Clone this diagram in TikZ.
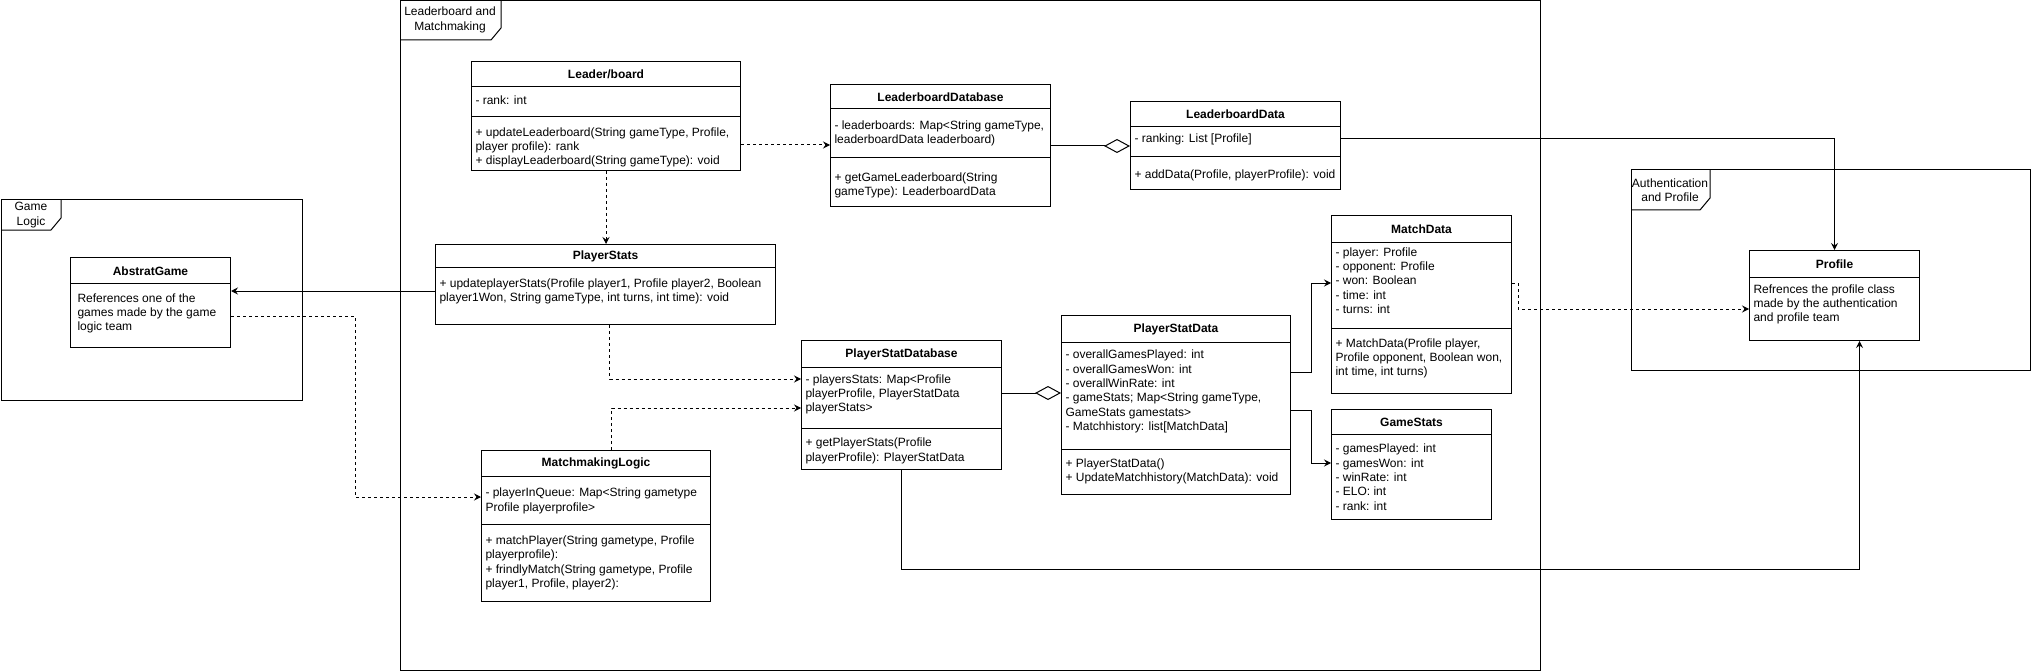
\documentclass[tikz,border=0pt]{standalone}
\usepackage{fontspec}
\setmainfont{Liberation Sans}
\usetikzlibrary{arrows.meta}
\tikzstyle{classbox}=[draw, rectangle, fill=white, anchor=north west, inner sep=0pt]
\tikzstyle{classname}=[font={\fontsize{12}{14.4}\selectfont\bfseries}, inner sep=0pt]
\tikzstyle{members}=[anchor=north west, align=left, inner sep=0pt]
\tikzstyle{assocline}=[-{Stealth[length=7pt,width=7pt,inset=2.5pt]}]
\tikzstyle{depline}=[assocline, dash pattern=on 3pt off 3pt]
\tikzstyle{aggrline}=[-{Diamond[open,length=26pt,width=14pt]}]

\begin{document}
\begin{tikzpicture}[x=1pt, y=-1pt, line width=1pt, font=\fontsize{12}{14.4}\selectfont]
\useasboundingbox (0,0) rectangle (2031,671);
% Frames
    \draw (1,200) rectangle (302,400);
    \draw (1,230) -- (51,230) -- (61,218) -- (61,200);
    \node[align=center] (gameTab) at (31,215) {Game\\Logic};
    \draw (400,1) rectangle (1540,670);
    \draw (400,40) -- (491,40) -- (501,28) -- (501,1);
    \node[align=center] (lbmmTab) at (450,20) {Leaderboard and\\Matchmaking};
    \draw (1631,170) rectangle (2030,370);
    \draw (1631,210) -- (1700,210) -- (1710,198) -- (1710,170);
    \node[align=center] (authTab) at (1670,190) {Authentication\\and Profile};
% Game logic class
    \node[classbox, minimum width=160, minimum height=90] (abstract) at (70,257) {};
    \draw (abstract.west |- 0,283) -- (abstract.east |- 0,283);
    \node[classname] (abstractName) at (abstract.north |- 0,271) {AbstratGame};
    \node[members] (abstractText) at (77,293) {References one of the\\games made by the game\\logic team};
% Leaderboard classes
    \node[classbox, minimum width=269, minimum height=109] (board) at (471,61) {};
    \draw (board.west |- 0,87) -- (board.east |- 0,87);
    \draw (board.west |- 0,117) -- (board.east |- 0,117);
    \node[classname] (boardName) at (board.north |- 0,74) {Leader/board};
    \node[members] (boardAttr) at (475,95.5) {- rank: int};
    \node[members] (boardOps) at (475,127) {+ updateLeaderboard(String gameType, Profile,\\player profile): rank\\+ displayLeaderboard(String gameType): void};

    \node[classbox, minimum width=220, minimum height=122] (lbdb) at (830,84) {};
    \draw (lbdb.west |- 0,109) -- (lbdb.east |- 0,109);
    \draw (lbdb.west |- 0,158) -- (lbdb.east |- 0,158);
    \node[classname] (lbdbName) at (lbdb.north |- 0,97) {LeaderboardDatabase};
    \node[members] (lbdbAttr) at (834,120) {- leaderboards: Map<String gameType,\\leaderboardData leaderboard)};
    \node[members] (lbdbOps) at (834,172) {+ getGameLeaderboard(String\\gameType): LeaderboardData};

    \node[classbox, minimum width=210, minimum height=88] (lbdata) at (1130,101) {};
    \draw (lbdata.west |- 0,127) -- (lbdata.east |- 0,127);
    \draw (lbdata.west |- 0,157) -- (lbdata.east |- 0,157);
    \node[classname] (lbdataName) at (lbdata.north |- 0,114) {LeaderboardData};
    \node[members] (lbdataAttr) at (1134,133.5) {- ranking: List [Profile]};
    \node[members] (lbdataOps) at (1134,169) {+ addData(Profile, playerProfile): void};
% Player stats classes
    \node[classbox, minimum width=340, minimum height=80] (pstats) at (435,244) {};
    \draw (pstats.west |- 0,267) -- (pstats.east |- 0,267);
    \node[classname] (pstatsName) at (pstats.north |- 0,256) {PlayerStats};
    \node[members] (pstatsOps) at (439,278) {+ updateplayerStats(Profile player1, Profile player2, Boolean\\player1Won, String gameType, int turns, int time): void};

    \node[classbox, minimum width=229, minimum height=151] (mm) at (481,450) {};
    \draw (mm.west |- 0,476) -- (mm.east |- 0,476);
    \draw (mm.west |- 0,524) -- (mm.east |- 0,524);
    \node[classname] (mmName) at (mm.north |- 0,463) {MatchmakingLogic};
    \node[members] (mmAttr) at (485,487.5) {- playerInQueue: Map<String gametype\\Profile playerprofile>};
    \node[members] (mmOps) at (485,535) {+ matchPlayer(String gametype, Profile\\playerprofile):\\+ frindlyMatch(String gametype, Profile\\player1, Profile, player2):};

    \node[classbox, minimum width=200, minimum height=129] (psdb) at (801,340) {};
    \draw (psdb.west |- 0,367) -- (psdb.east |- 0,367);
    \draw (psdb.west |- 0,428) -- (psdb.east |- 0,428);
    \node[classname] (psdbName) at (psdb.north |- 0,354) {PlayerStatDatabase};
    \node[members] (psdbAttr) at (805,374) {- playersStats: Map<Profile\\playerProfile, PlayerStatData\\playerStats>};
    \node[members] (psdbOps) at (805,437.5) {+ getPlayerStats(Profile\\playerProfile): PlayerStatData};

    \node[classbox, minimum width=229, minimum height=179] (psdata) at (1061,315) {};
    \draw (psdata.west |- 0,342) -- (psdata.east |- 0,342);
    \draw (psdata.west |- 0,449) -- (psdata.east |- 0,449);
    \node[classname] (psdataName) at (psdata.north |- 0,329) {PlayerStatData};
    \node[members] (psdataAttr) at (1065,349.5) {- overallGamesPlayed: int\\- overallGamesWon: int\\- overallWinRate: int\\- gameStats; Map<String gameType,\\GameStats gamestats>\\- Matchhistory: list[MatchData]};
    \node[members] (psdataOps) at (1065,458) {+ PlayerStatData()\\+ UpdateMatchhistory(MatchData): void};

    \node[classbox, minimum width=180, minimum height=178] (match) at (1331,215) {};
    \draw (match.west |- 0,242) -- (match.east |- 0,242);
    \draw (match.west |- 0,328) -- (match.east |- 0,328);
    \node[classname] (matchName) at (match.north |- 0,229) {MatchData};
    \node[members] (matchAttr) at (1335,247) {- player: Profile\\- opponent: Profile\\- won: Boolean\\- time: int\\- turns: int};
    \node[members] (matchOps) at (1335,338) {+ MatchData(Profile player,\\Profile opponent, Boolean won,\\int time, int turns)};

    \node[classbox, minimum width=160, minimum height=110] (gstats) at (1331,409) {};
    \draw (gstats.west |- 0,434) -- (gstats.east |- 0,434);
    \node[classname] (gstatsName) at (gstats.north |- 0,422) {GameStats};
    \node[members] (gstatsAttr) at (1335,443.5) {- gamesPlayed: int\\- gamesWon: int\\- winRate: int\\- ELO: int\\- rank: int};
% Profile class
    \node[classbox, minimum width=170, minimum height=90] (profile) at (1749,250) {};
    \draw (profile.west |- 0,277) -- (profile.east |- 0,277);
    \node[classname] (profileName) at (profile.north |- 0,264) {Profile};
    \node[members] (profileText) at (1753,284) {Refrences the profile class\\made by the authentication\\and profile team};
% Connectors
    \draw[depline] (board.south) -- (board.south |- pstats.north);
    \draw[depline] (board.east |- 0,145) -- (lbdb.west |- 0,145);
    \draw[aggrline] (lbdb.east |- 0,146) -- (lbdata.west |- 0,146);
    \draw[assocline] (lbdata.east |- 0,139) -| (profile.north);
    \draw[assocline] (pstats.west |- 0,291) -- (abstract.east |- 0,291);
    \draw[depline] (abstract.east |- 0,316) -- (355,316) |- (mm.west |- 0,497);
    \draw[depline] ([xshift=4pt]pstats.south) |- (psdb.west |- 0,379);
    \draw[depline] ([xshift=15.5pt]mm.north) |- (psdb.west |- 0,408);
    \draw[aggrline] (psdb.east |- 0,393) -- (psdata.west |- 0,393);
    \draw[assocline] (psdata.east |- 0,372) -- (1311,372) |- (match.west |- 0,283);
    \draw[assocline] (psdata.east |- 0,410) -- (1311,410) |- (gstats.west |- 0,463);
    \draw[depline] (match.east |- 0,283) -- (1518,283) |- (profile.west |- 0,309);
    \draw[assocline] (psdb.south) -- (psdb.south |- 0,569) -| ([xshift=25pt]profile.south);
\end{tikzpicture}
\end{document}
